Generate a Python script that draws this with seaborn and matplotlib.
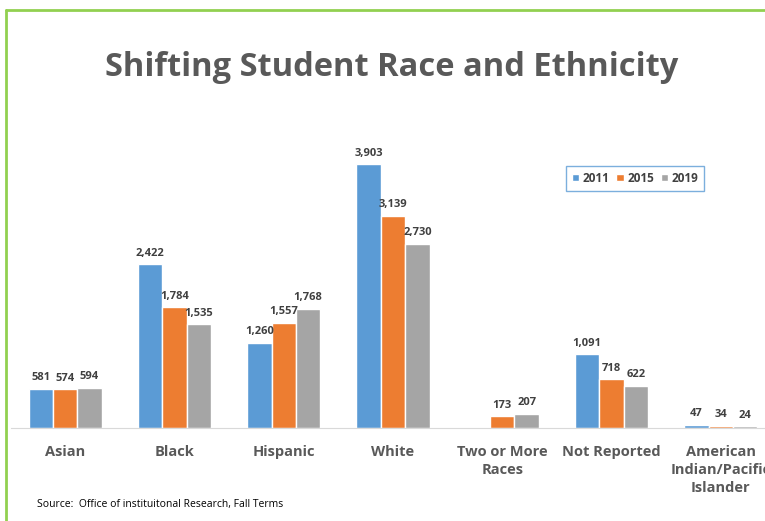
import numpy as np
import pandas as pd
import matplotlib.pyplot as plt
import seaborn as sns
from matplotlib.lines import Line2D

# data
categories = ["Asian", "Black", "Hispanic", "White", "Two or More\nRaces",
              "Not Reported", "American\nIndian/Pacific\nIslander"]
years = ["2011", "2015", "2019"]
values_2011 = [581, 2422, 1260, 3903, np.nan, 1091, 47]
values_2015 = [574, 1784, 1557, 3139, 173, 718, 34]
values_2019 = [594, 1535, 1768, 2730, 207, 622, 24]
colors = ["#5B9BD5", "#ED7D31", "#A5A5A5"]

rows = []
for year, vals in zip(years, [values_2011, values_2015, values_2019]):
    for cat, v in zip(categories, vals):
        rows.append({"category": cat, "year": year, "students": v})
df = pd.DataFrame(rows).dropna()

sns.set_style("white")
plt.rcParams["font.family"] = ["Open Sans", "DejaVu Sans"]

W, H = 765, 521
fig = plt.figure(figsize=(W / 100, H / 100), dpi=100)
ax = fig.add_axes([10.5 / W, (H - 428) / H, 765 / W, 304 / H])

sns.barplot(data=df, x="category", y="students", hue="year", order=categories,
            hue_order=years, palette=colors, width=0.67, saturation=1,
            errorbar=None, ax=ax)

for cont in ax.containers:
    ax.bar_label(cont, fmt="{:,.0f}", padding=4, fontsize=8, fontweight="bold",
                 color="#404040")

ax.set_xlim(-0.5, 6.5)
ax.set_ylim(0, 4500)
ax.set_xlabel("")
ax.set_ylabel("")
ax.set_yticks([])
for s in ["left", "right", "top"]:
    ax.spines[s].set_visible(False)
ax.spines["bottom"].set_color("#D9D9D9")
ax.tick_params(axis="x", length=0, pad=12)
for lab in ax.get_xticklabels():
    lab.set_fontsize(10.5)
    lab.set_fontweight("bold")
    lab.set_color("#595959")
    lab.set_linespacing(1.4)
    lab.set_verticalalignment("top")

leg = ax.legend(loc="upper left", bbox_to_anchor=(566 / W, (H - 166) / H),
                bbox_transform=fig.transFigure, ncol=3, frameon=True,
                fontsize=8.5, handlelength=0.6, handleheight=0.6,
                handletextpad=0.3, columnspacing=0.6, borderpad=0.5,
                borderaxespad=0, fancybox=False)
leg.get_frame().set_edgecolor("#5B9BD5")
leg.get_frame().set_linewidth(1)
for t in leg.get_texts():
    t.set_fontweight("bold")
    t.set_color("#404040")

fig.text(392 / W, 1 - 68 / H, "Shifting Student Race and Ethnicity",
         ha="center", va="center", fontsize=23.5, fontweight="bold",
         color="#595959")
fig.text(37 / W, 1 - 505 / H, "Source:  Office of instituitonal Research, Fall Terms",
         ha="left", va="center", fontsize=7.5, color="#000000")

# green frame on left and top
fig.add_artist(Line2D([6.5 / W, 6.5 / W], [0, 1 - 10 / H], color="#92D050",
                      lw=2, transform=fig.transFigure))
fig.add_artist(Line2D([6.5 / W, 1], [1 - 10 / H, 1 - 10 / H], color="#92D050",
                      lw=2, transform=fig.transFigure))

fig.savefig("out.png", dpi=100)
